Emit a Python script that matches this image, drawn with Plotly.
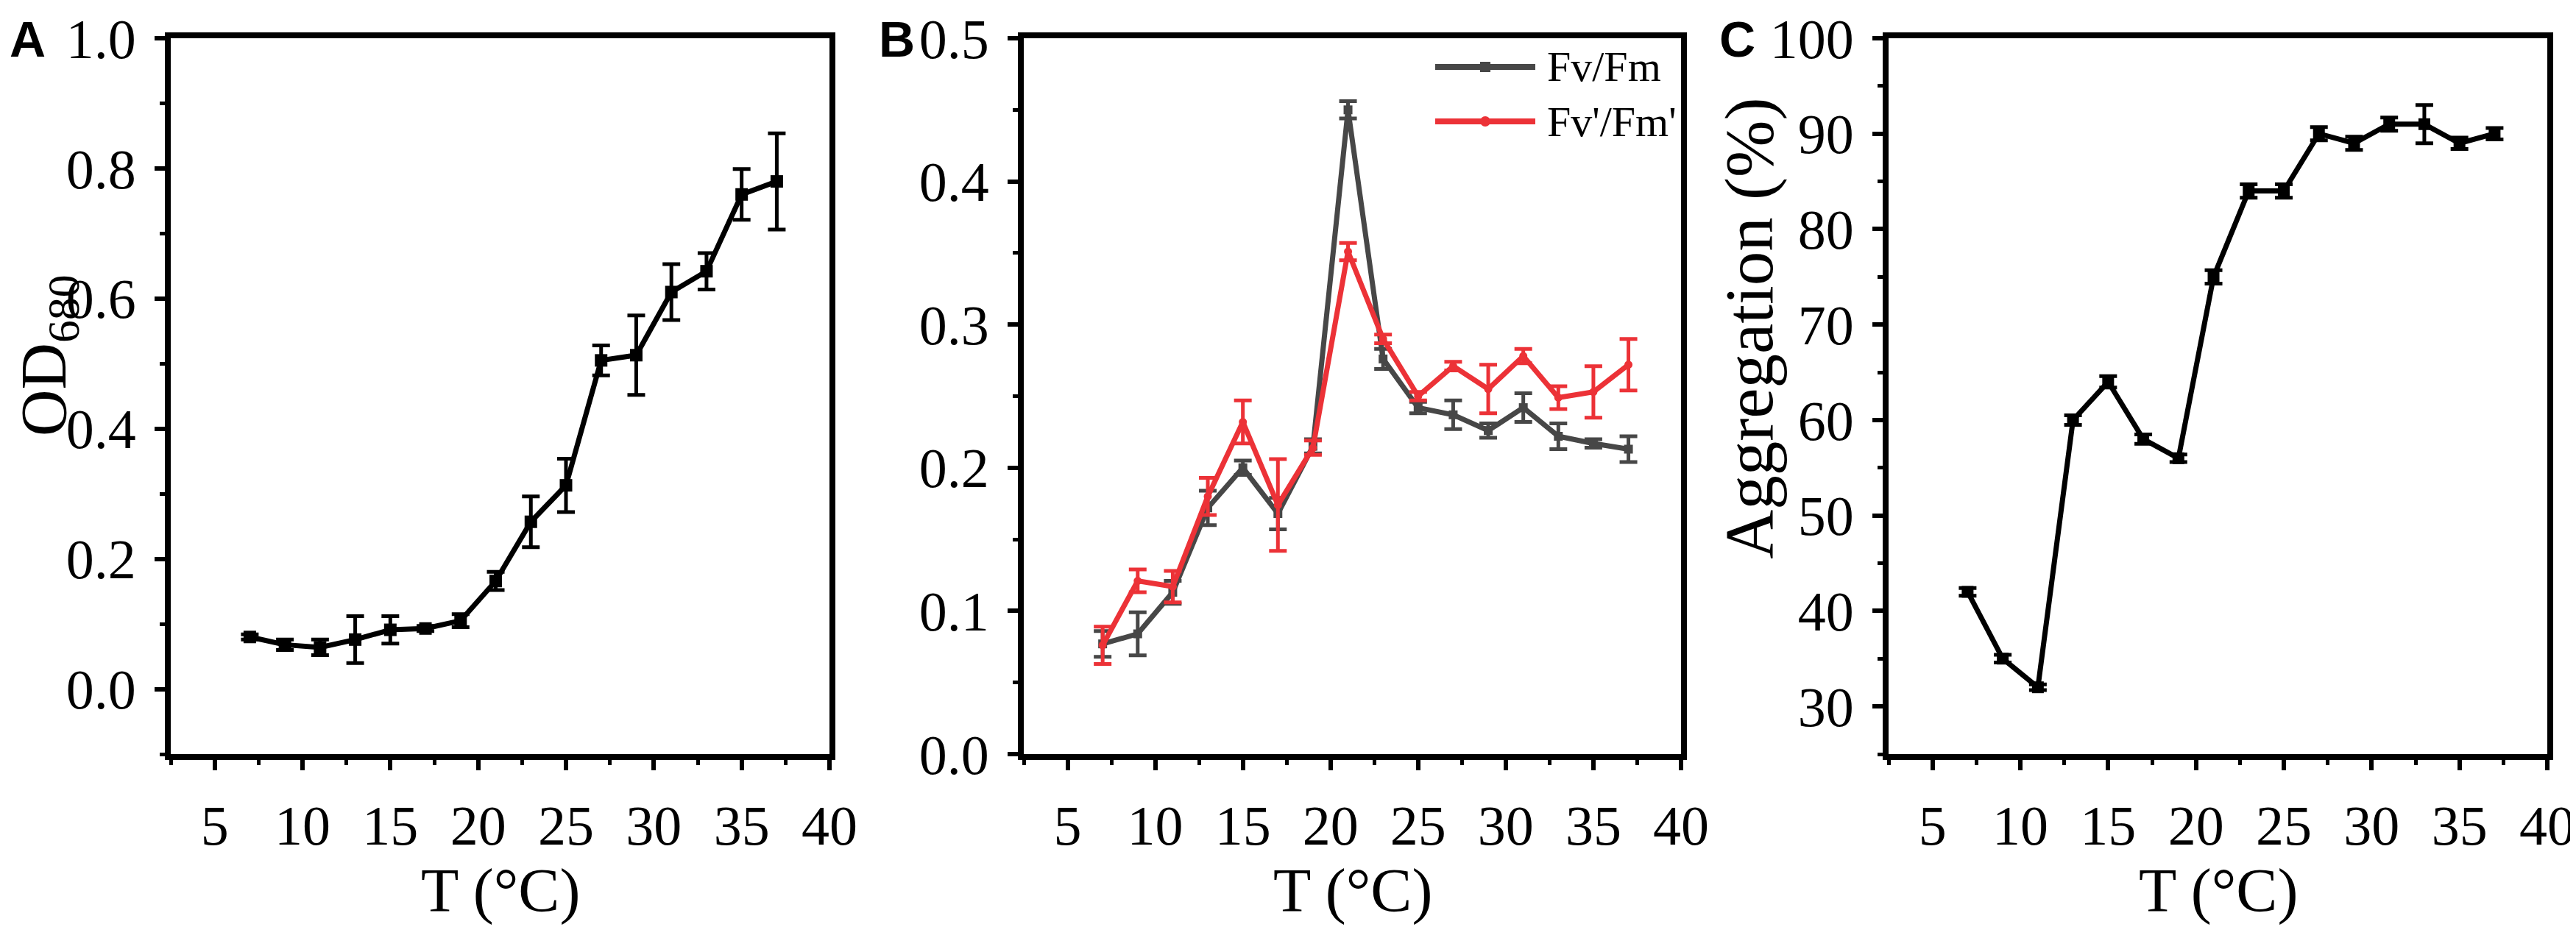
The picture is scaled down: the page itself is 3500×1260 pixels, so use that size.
import plotly.graph_objects as go

# ---------------- data ----------------
temps = [7, 9, 11, 13, 15, 17, 19, 21, 23, 25, 27, 29, 31, 33, 35, 37]

od680 = [0.080, 0.068, 0.064, 0.076, 0.091, 0.093, 0.105, 0.166, 0.257, 0.313,
         0.505, 0.513, 0.610, 0.642, 0.760, 0.780]
od680_err = [0.004, 0.008, 0.012, 0.036, 0.021, 0.004, 0.010, 0.014, 0.039, 0.041,
             0.023, 0.061, 0.043, 0.028, 0.039, 0.074]

fvfm = [0.077, 0.084, 0.113, 0.172, 0.200, 0.168, 0.215, 0.450, 0.276, 0.242,
        0.237, 0.226, 0.242, 0.222, 0.217, 0.213]
fvfm_err = [0.009, 0.015, 0.008, 0.012, 0.005, 0.011, 0.005, 0.006, 0.007, 0.004,
            0.010, 0.005, 0.010, 0.009, 0.003, 0.009]

fvfm_p = [0.076, 0.121, 0.117, 0.180, 0.232, 0.174, 0.214, 0.351, 0.290, 0.250,
          0.271, 0.255, 0.278, 0.249, 0.253, 0.272]
fvfm_p_err = [0.013, 0.008, 0.011, 0.013, 0.015, 0.032, 0.005, 0.006, 0.003, 0.003,
              0.003, 0.017, 0.005, 0.008, 0.018, 0.018]

aggregation = [42, 35, 32, 60, 64, 58, 56, 75, 84, 84, 90, 89, 91, 91, 89, 90]
aggregation_err = [0.4, 0.4, 0.3, 0.5, 0.6, 0.5, 0.4, 0.7, 0.7, 0.7, 0.7, 0.7, 0.7, 2.0, 0.6, 0.6]

series_names = ["Fv/Fm", "Fv'/Fm'"]
panel_letters = ["A", "B", "C"]
x_title = "T (°C)"
y_titles = ["OD<sub>680</sub>", "Aggregation (%)"]

# ---------------- styles ----------------
W, H = 3500, 1260
SERIF = "Liberation Serif, Times New Roman, serif"
SANS = "Liberation Sans, Arial, sans-serif"
BLACK = "#000000"
GRAY = "#474747"
RED = "#EC3237"

fig = go.Figure()

def err(vals, color, thick=5, w=12):
    return dict(type="data", array=vals, visible=True, color=color, thickness=thick, width=w)

# Panel A
fig.add_trace(go.Scatter(x=temps, y=od680, mode="lines+markers", xaxis="x", yaxis="y",
                         line=dict(color=BLACK, width=7),
                         marker=dict(symbol="square", size=17, color=BLACK),
                         error_y=err(od680_err, BLACK), showlegend=False))
# Panel B
fig.add_trace(go.Scatter(x=temps, y=fvfm, mode="lines+markers", xaxis="x2", yaxis="y2",
                         name=series_names[0],
                         line=dict(color=GRAY, width=7),
                         marker=dict(symbol="square", size=12, color=GRAY),
                         error_y=err(fvfm_err, GRAY), showlegend=False))
fig.add_trace(go.Scatter(x=temps, y=fvfm_p, mode="lines+markers", xaxis="x2", yaxis="y2",
                         name=series_names[1],
                         line=dict(color=RED, width=7),
                         marker=dict(symbol="circle", size=11, color=RED),
                         error_y=err(fvfm_p_err, RED), showlegend=False))
# Panel C
fig.add_trace(go.Scatter(x=temps, y=aggregation, mode="lines+markers", xaxis="x3", yaxis="y3",
                         line=dict(color=BLACK, width=7),
                         marker=dict(symbol="square", size=16, color=BLACK),
                         error_y=err(aggregation_err, BLACK), showlegend=False))

# ---------------- axes ----------------
ydom = [1 - 1017 / H, 1 - 44 / H]
xdoms = [[224 / W, 1119 / W], [1383 / W, 2276 / W], [2558 / W, 3453 / W]]

common = dict(showline=True, linewidth=8, linecolor=BLACK, mirror=True,
              ticks="outside", ticklen=14, tickwidth=6, tickcolor=BLACK,
              showgrid=False, zeroline=False, automargin=False,
              ticklabeloverflow="allow",
              tickfont=dict(family=SERIF, size=76, color=BLACK),
              ticklabelstandoff=10)

xax = dict(range=[2.5, 40], tick0=0, dtick=5,
           minor=dict(ticks="outside", ticklen=7, tickwidth=5, tickcolor=BLACK, tick0=0, dtick=2.5),
           **common)

layout_axes = {}
for i, dom in enumerate(xdoms):
    key = "xaxis" if i == 0 else f"xaxis{i+1}"
    anchor = "y" if i == 0 else f"y{i+1}"
    layout_axes[key] = dict(domain=dom, anchor=anchor, **xax)

layout_axes["yaxis"] = dict(domain=ydom, anchor="x", range=[-0.1, 1.0], tick0=0, dtick=0.2,
                            tickformat=".1f",
                            minor=dict(ticks="outside", ticklen=7, tickwidth=5, tickcolor=BLACK,
                                       tick0=0, dtick=0.1), **common)
layout_axes["yaxis2"] = dict(domain=ydom, anchor="x2", range=[0, 0.5], tick0=0, dtick=0.1,
                             tickformat=".1f",
                             minor=dict(ticks="outside", ticklen=7, tickwidth=5, tickcolor=BLACK,
                                        tick0=0, dtick=0.05), **common)
layout_axes["yaxis3"] = dict(domain=ydom, anchor="x3", range=[25, 100], tick0=0, dtick=10,
                             minor=dict(ticks="outside", ticklen=7, tickwidth=5, tickcolor=BLACK,
                                        tick0=0, dtick=5), **common)

fig.update_layout(template="none", width=W, height=H, margin=dict(l=0, r=0, t=0, b=0),
                  paper_bgcolor="white", plot_bgcolor="white", showlegend=False,
                  **layout_axes)

# ---------------- text ----------------
ann = []
# panel letters
for letter, xpx in zip(panel_letters, [3, 1184, 2326]):
    ann.append(dict(text=f"<b>{letter}</b>", x=xpx / W, y=1 - 45 / H, xref="paper", yref="paper",
                    xanchor="left", yanchor="middle", showarrow=False,
                    font=dict(family=SANS, size=68, color=BLACK)))
# x titles
for dom in xdoms:
    ann.append(dict(text=x_title, x=(dom[0] + dom[1]) / 2, y=1 - 1203 / H, xref="paper", yref="paper",
                    xanchor="center", yanchor="middle", showarrow=False,
                    font=dict(family=SERIF, size=84, color=BLACK)))
# y titles
ann.append(dict(text=y_titles[0], x=57 / W, y=1 - 475 / H, xref="paper", yref="paper",
                xanchor="center", yanchor="middle", textangle=-90, showarrow=False,
                font=dict(family=SERIF, size=88, color=BLACK)))
ann.append(dict(text=y_titles[1], x=2368 / W, y=1 - 438 / H, xref="paper", yref="paper",
                xanchor="center", yanchor="middle", textangle=-90, showarrow=False,
                font=dict(family=SERIF, size=93, color=BLACK)))

# legend (panel B, top-right, no frame)
shapes = []
for name, color, sym, ypx in [(series_names[0], GRAY, "rect", 83), (series_names[1], RED, "circle", 157)]:
    yp = 1 - ypx / H
    shapes.append(dict(type="line", xref="paper", yref="paper", x0=1942 / W, x1=2078 / W,
                       y0=yp, y1=yp, line=dict(color=color, width=8)))
    shapes.append(dict(type=sym, xref="paper", yref="paper", x0=2003 / W, x1=2017 / W,
                       y0=yp - 7 / H, y1=yp + 7 / H, fillcolor=color, line=dict(color=color, width=0)))
    ann.append(dict(text=name, x=2092 / W, y=yp, xref="paper", yref="paper",
                    xanchor="left", yanchor="middle", showarrow=False,
                    font=dict(family=SERIF, size=58, color=BLACK)))

fig.update_layout(annotations=ann, shapes=shapes)

fig.write_html("out.html")
